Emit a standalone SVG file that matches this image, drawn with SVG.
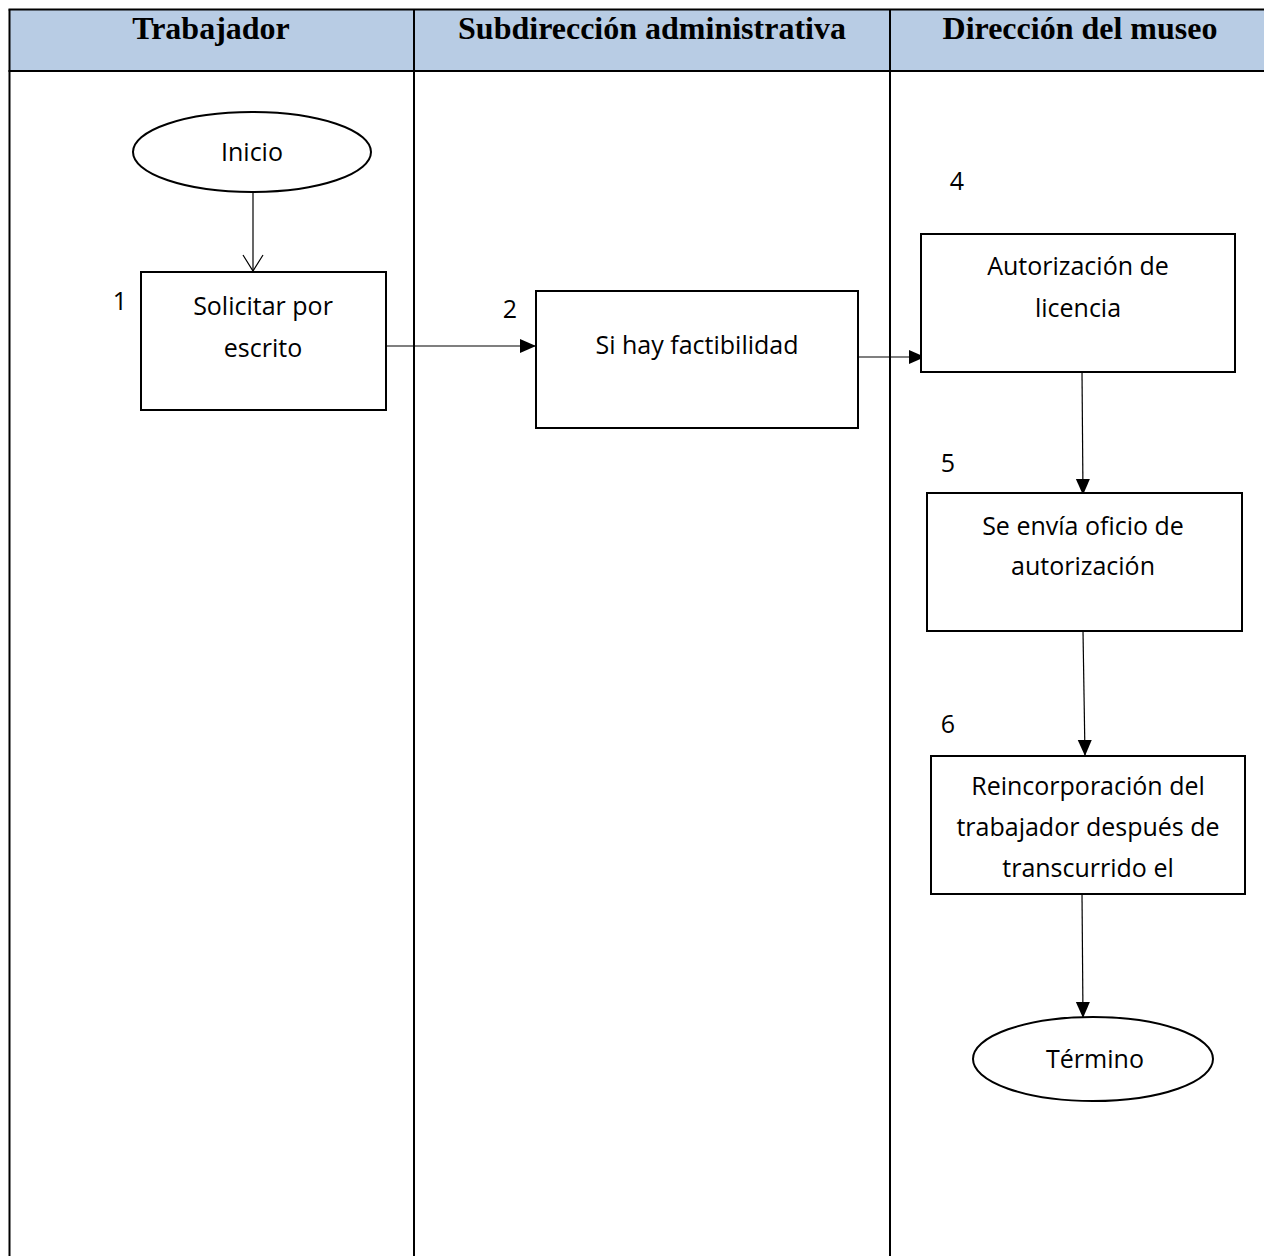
<svg xmlns="http://www.w3.org/2000/svg" width="1264" height="1256" viewBox="0 0 1264 1256">
  <style>
    .grid { stroke: #000; stroke-width: 2; fill: none; }
    .head { font-family: "Liberation Serif", "Times New Roman", serif; font-weight: bold; font-size: 32px; fill: #000; text-anchor: middle; }
    .box { fill: #fff; stroke: #000; stroke-width: 2; }
    .lbl { font-family: "Open Sans", "Noto Sans", sans-serif; font-size: 25px; fill: #000; text-anchor: middle; }
    .num { font-family: "Open Sans", "Noto Sans", sans-serif; font-size: 25px; fill: #000; text-anchor: middle; }
    .link { stroke: #000; stroke-width: 1.2; fill: none; }
  </style>
  <defs>
    <marker id="arrowFilled" markerUnits="userSpaceOnUse" markerWidth="16" markerHeight="14" refX="16" refY="7" orient="auto" overflow="visible">
      <path d="M0,0 L16,7 L0,14 Z" fill="#000"/>
    </marker>
    <marker id="arrowOpen" markerUnits="userSpaceOnUse" markerWidth="18" markerHeight="22" refX="17" refY="11" orient="auto" overflow="visible">
      <path d="M1,1 L17,11 L1,21" fill="none" stroke="#000" stroke-width="1.2"/>
    </marker>
  </defs>

  <rect width="1264" height="1256" fill="#fff"/>

  <!-- swimlane table -->
  <g id="lanes">
    <rect x="9.5" y="9.5" width="1256" height="61.5" fill="#B8CCE4"/>
    <line class="grid" x1="8.5" y1="9.5" x2="1264" y2="9.5"/>
    <line class="grid" x1="8.5" y1="71" x2="1264" y2="71"/>
    <line class="grid" x1="9.5" y1="9.5" x2="9.5" y2="1256"/>
    <line class="grid" x1="414" y1="9.5" x2="414" y2="1256"/>
    <line class="grid" x1="890" y1="9.5" x2="890" y2="1256"/>
    <text class="head" x="211" y="39">Trabajador</text>
    <text class="head" x="652" y="39">Subdirección administrativa</text>
    <text class="head" x="1080" y="39">Dirección del museo</text>
  </g>

  <!-- connectors -->
  <g id="connectors">
    <line class="link" x1="253" y1="193" x2="253" y2="271" marker-end="url(#arrowOpen)"/>
    <line class="link" x1="386" y1="346" x2="536" y2="346" marker-end="url(#arrowFilled)"/>
    <line class="link" x1="858" y1="357" x2="925" y2="357" marker-end="url(#arrowFilled)"/>
    <line class="link" x1="1082" y1="372" x2="1083" y2="495" marker-end="url(#arrowFilled)"/>
    <line class="link" x1="1083" y1="631" x2="1085" y2="756" marker-end="url(#arrowFilled)"/>
    <line class="link" x1="1082" y1="894" x2="1083" y2="1018" marker-end="url(#arrowFilled)"/>
  </g>

  <g id="node-inicio">
    <ellipse class="box" cx="252" cy="152" rx="119" ry="40"/>
    <text class="lbl" x="252" y="161">Inicio</text>
  </g>

  <g id="node-1">
    <text class="num" x="120" y="310">1</text>
    <rect class="box" x="141" y="272" width="245" height="138"/>
    <text class="lbl" x="263" y="315">Solicitar por</text>
    <text class="lbl" x="263" y="357">escrito</text>
  </g>

  <g id="node-2">
    <text class="num" x="510" y="318">2</text>
    <rect class="box" x="536" y="291" width="322" height="137"/>
    <text class="lbl" x="697" y="354">Si hay factibilidad</text>
  </g>

  <g id="node-4">
    <text class="num" x="957" y="190">4</text>
    <rect class="box" x="921" y="234" width="314" height="138"/>
    <text class="lbl" x="1078" y="275">Autorización de</text>
    <text class="lbl" x="1078" y="317">licencia</text>
  </g>

  <g id="node-5">
    <text class="num" x="948" y="472">5</text>
    <rect class="box" x="927" y="493" width="315" height="138"/>
    <text class="lbl" x="1083" y="535">Se envía oficio de</text>
    <text class="lbl" x="1083" y="575">autorización</text>
  </g>

  <g id="node-6">
    <text class="num" x="948" y="733">6</text>
    <rect class="box" x="931" y="756" width="314" height="138"/>
    <text class="lbl" x="1088" y="795">Reincorporación del</text>
    <text class="lbl" x="1088" y="836">trabajador después de</text>
    <text class="lbl" x="1088" y="877">transcurrido el</text>
  </g>

  <g id="node-termino">
    <ellipse class="box" cx="1093" cy="1059" rx="120" ry="42"/>
    <text class="lbl" x="1095" y="1068">Término</text>
  </g>
</svg>
